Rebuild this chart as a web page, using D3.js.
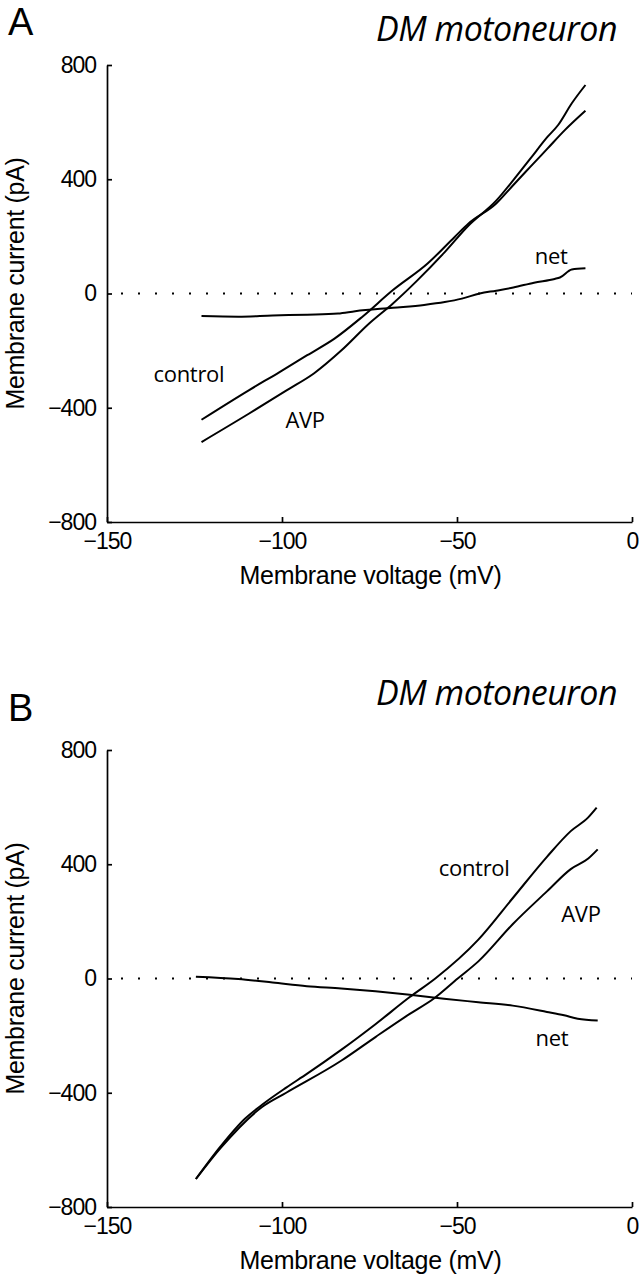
<!DOCTYPE html>
<html lang="en">
<head>
<meta charset="UTF-8">
<script src="https://d3js.org/d3.v7.min.js"></script>
<title>DM motoneuron I-V</title>
<style>
  body { margin: 0; background: #fff; }
</style>
</head>
<body>
<div id="chart"></div>
<script>
// axis setup shared by both panels
var xTicks = [-150, -100, -50, 0];
var yTicks = [-800, -400, 0, 400, 800];

// Panel A (mV, pA)
var aControlV = [-123.0, -109.5, -100.7, -92.8, -85.0, -77.1, -68.3, -58.4, -50.6, -46.7, -38.8, -33.9, -29.0, -24.1, -19.2, -13.3];
var aControlI = [-442, -339, -275, -216, -158, -82, 12, 105, 199, 245, 315, 380, 444, 508, 572, 640];
var aAvpV = [-123.0, -109.5, -98.7, -90.9, -83.0, -75.1, -68.3, -61.4, -53.5, -46.7, -38.8, -33.9, -29.0, -24.1, -21.1, -17.2, -13.3];
var aAvpI = [-520, -421, -339, -280, -199, -105, -35, 45, 145, 238, 325, 397, 473, 549, 590, 666, 730];
var aNetV = [-123, -112.5, -102.7, -92.8, -84, -79.1, -68.3, -59.4, -53.5, -48.6, -43.5, -38.8, -33.9, -28, -22.1, -20.6, -17.2, -13.3];
var aNetI = [-79, -81, -77, -74, -70, -62, -50, -40, -30, -18, 0, 10, 21, 38, 51, 56, 84, 88];

// Panel B
var bControlV = [-124.6, -117.5, -110.6, -105.7, -98.8, -92.9, -83.1, -73.3, -63.5, -56.2, -43.9, -34.1, -24.3, -17.5, -12.5, -10.1];
var bControlI = [-702, -587, -491, -442, -382, -334, -250, -160, -65, 0, 136, 281, 426, 516, 564, 598];
var bAvpV = [-124.6, -117.5, -105.7, -98.8, -83.1, -73.3, -63.5, -56.7, -49.8, -43.9, -34.1, -24.3, -17.5, -12.5, -9.8];
var bAvpI = [-702, -593, -450, -400, -288, -205, -124, -71, 0, 60, 190, 305, 383, 420, 452];
var bNetV = [-124.6, -112.5, -102.7, -92.9, -83.1, -73.3, -63.5, -53.7, -43.9, -34.1, -24.3, -19.4, -15.5, -9.8];
var bNetI = [6, -2, -14, -27, -35, -45, -57, -71, -83, -95, -117, -129, -141, -147];

var panels = [
  { letter: "A", top: 65, letterY: 35, titleY: 41,
    series: [[aControlV, aControlI], [aAvpV, aAvpI], [aNetV, aNetI]],
    labels: [["control", -126.6, -310], ["AVP", -93.4, -471], ["net", -23.1, 103]] },
  { letter: "B", top: 750, letterY: 721, titleY: 705,
    series: [[bControlV, bControlI], [bAvpV, bAvpI], [bNetV, bNetI]],
    labels: [["control", -45.1, 359], ["AVP", -14.6, 198], ["net", -22.9, -236]] }
];

var W = 639, H = 1280;
var left = 107, right = 632, plotH = 457;

var svg = d3.select("#chart").append("svg")
    .attr("width", W)
    .attr("height", H);

function fmt(d) { return d < 0 ? "\u2212" + Math.abs(d) : String(d); }

panels.forEach(function (p) {
  var x = d3.scaleLinear().domain([-150, 0]).range([left, right]);
  var y = d3.scaleLinear().domain([-800, 800]).range([p.top + plotH, p.top]);

  var g = svg.append("g");

  // panel letter + title
  g.append("text")
      .attr("x", 8).attr("y", p.letterY)
      .style("font-family", "'Liberation Sans', Arial, sans-serif")
      .style("font-size", "38px")
      .text(p.letter);
  g.append("text")
      .attr("x", 617).attr("y", p.titleY)
      .attr("text-anchor", "end")
      .style("font-family", "'Open Sans', sans-serif")
      .style("font-style", "italic")
      .style("font-size", "34px")
      .style("letter-spacing", "-0.5px")
      .text("DM motoneuron");

  // zero line
  g.append("line")
      .attr("x1", x(-146)).attr("x2", right)
      .attr("y1", y(0)).attr("y2", y(0))
      .attr("stroke", "#000")
      .attr("stroke-width", 2)
      .attr("stroke-dasharray", "2,15");

  // axes
  var yAxis = d3.axisLeft(y).tickValues(yTicks).tickFormat(fmt)
      .tickSizeInner(-5).tickSizeOuter(0).tickPadding(11);
  var xAxis = d3.axisBottom(x).tickValues(xTicks).tickFormat(fmt)
      .tickSizeInner(-5).tickSizeOuter(0).tickPadding(11);

  var ya = g.append("g").attr("transform", "translate(" + left + ",0)").call(yAxis);
  var xa = g.append("g").attr("transform", "translate(0," + (p.top + plotH) + ")").call(xAxis);

  [ya, xa].forEach(function (a) {
    a.selectAll("path, line").attr("stroke", "#000").attr("stroke-width", 1.7);
    a.selectAll("text")
        .attr("fill", "#000")
        .style("font-family", "'Liberation Sans', Arial, sans-serif")
        .style("font-size", "23px")
        .style("letter-spacing", "-1px");
  });

  // axis titles
  g.append("text")
      .attr("x", (left + right) / 2 + 1).attr("y", p.top + plotH + 62)
      .attr("text-anchor", "middle")
      .style("font-family", "'Liberation Sans', Arial, sans-serif")
      .style("font-size", "25px")
      .style("letter-spacing", "-0.3px")
      .text("Membrane voltage (mV)");
  g.append("text")
      .attr("transform", "translate(24," + (p.top + plotH / 2 - 10) + ") rotate(-90)")
      .attr("text-anchor", "middle")
      .style("font-family", "'Liberation Sans', Arial, sans-serif")
      .style("font-size", "25px")
      .style("letter-spacing", "-0.3px")
      .text("Membrane current (pA)");

  // traces
  var line = d3.line()
      .x(function (d) { return x(d[0]); })
      .y(function (d) { return y(d[1]); })
      .curve(d3.curveMonotoneX);

  p.series.forEach(function (s) {
    var pts = s[0].map(function (v, i) { return [v, s[1][i]]; });
    g.append("path")
        .datum(pts)
        .attr("fill", "none")
        .attr("stroke", "#000")
        .attr("stroke-width", 2)
        .attr("d", line);
  });

  // trace labels
  p.labels.forEach(function (l) {
    g.append("text")
        .attr("x", x(l[1])).attr("y", y(l[2]))
        .attr("text-anchor", "middle")
        .style("font-family", "'Open Sans', sans-serif")
        .style("font-size", "22px")
        .style("letter-spacing", "-0.3px")
        .text(l[0]);
  });
});
</script>
</body>
</html>
